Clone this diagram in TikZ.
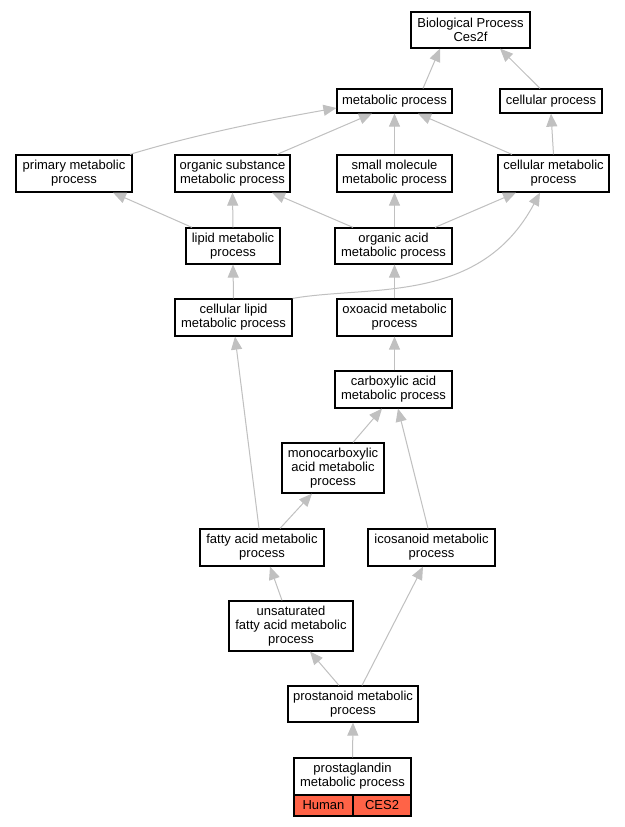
\documentclass[tikz,border=0pt]{standalone}
\usepackage{fontspec}
\setmainfont{Liberation Sans}
\usetikzlibrary{arrows.meta}
\definecolor{edgegray}{RGB}{192,192,192}
\definecolor{tomatofill}{RGB}{255,99,71}
\begin{document}
\begin{tikzpicture}[x=1pt,y=-1pt,
  box/.style={draw=black,line width=1.2pt,fill=white,inner sep=0pt,align=center,font=\fontsize{13}{14}\selectfont},
  edge/.style={draw=edgegray,line width=1pt,-{Triangle[length=13pt,width=11pt]}},
  cell/.style={box,fill=tomatofill,minimum height=21pt}]
\useasboundingbox[fill=white] (0,0) rectangle (624,827);

\node[box,minimum width=119pt,minimum height=36pt] (bp) at (470.5,30) {Biological Process\\Ces2f};
\node[box,minimum width=115pt,minimum height=24pt] (metab) at (394.5,101) {metabolic process};
\node[box,minimum width=102pt,minimum height=24pt] (cellproc) at (551,101) {cellular process};
\node[box,minimum width=116pt,minimum height=37pt] (primary) at (74,173.5) {primary metabolic\\process};
\node[box,minimum width=115pt,minimum height=37pt] (orgsub) at (232.5,173.5) {organic substance\\metabolic process};
\node[box,minimum width=115pt,minimum height=37pt] (smallmol) at (394.5,173.5) {small molecule\\metabolic process};
\node[box,minimum width=111pt,minimum height=37pt] (cellmet) at (553.5,173.5) {cellular metabolic\\process};
\node[box,minimum width=94pt,minimum height=36pt] (lipid) at (233,246) {lipid metabolic\\process};
\node[box,minimum width=117pt,minimum height=36pt] (orgacid) at (393.5,246) {organic acid\\metabolic process};
\node[box,minimum width=117pt,minimum height=37pt] (cellipid) at (233.5,317.5) {cellular lipid\\metabolic process};
\node[box,minimum width=115pt,minimum height=37pt] (oxo) at (394.5,317.5) {oxoacid metabolic\\process};
\node[box,minimum width=117pt,minimum height=37pt] (carbox) at (393.5,389.5) {carboxylic acid\\metabolic process};
\node[box,minimum width=102pt,minimum height=50pt] (mono) at (333,468) {monocarboxylic\\acid metabolic\\process};
\node[box,minimum width=124pt,minimum height=37pt] (fatty) at (262,547.5) {fatty acid metabolic\\process};
\node[box,minimum width=127pt,minimum height=37pt] (icos) at (431.5,547.5) {icosanoid metabolic\\process};
\node[box,minimum width=124pt,minimum height=50pt] (unsat) at (291,626) {unsaturated\\fatty acid metabolic\\process};
\node[box,minimum width=130pt,minimum height=36pt] (prostanoid) at (353,704) {prostanoid metabolic\\process};
\node[box,minimum width=117pt,minimum height=37pt] (pg) at (352.5,776.5) {prostaglandin\\metabolic process};
\node[cell,minimum width=59pt] (human) at (323.5,805.5) {Human};
\node[cell,minimum width=58pt] (ces2) at (382,805.5) {CES2};

\draw[edge] ([xshift=28.5pt]metab.north) -- ([xshift=-30.5pt]bp.south);
\draw[edge] ([xshift=-11pt]cellproc.north) -- ([xshift=29.5pt]bp.south);
\draw[edge] ([xshift=56pt]primary.north) .. controls (200,133) and (280,118) .. ([yshift=-7pt]metab.west);
\draw[edge] ([xshift=44.5pt]orgsub.north) -- ([xshift=-22.5pt]metab.south);
\draw[edge] (smallmol.north) -- (metab.south);
\draw[edge] ([xshift=-41.5pt]cellmet.north) -- ([xshift=23.5pt]metab.south);
\draw[edge] (cellmet.north) -- (cellproc.south);
\draw[edge] ([xshift=-41pt]lipid.north) -- ([xshift=39pt]primary.south);
\draw[edge] (lipid.north) -- (orgsub.south);
\draw[edge] ([xshift=-40.5pt]orgacid.north) -- ([xshift=39.5pt]orgsub.south);
\draw[edge] ([xshift=1pt]orgacid.north) -- (smallmol.south);
\draw[edge] ([xshift=41.5pt]orgacid.north) -- ([xshift=-37.5pt]cellmet.south);
\draw[edge] (cellipid.north) -- (lipid.south);
\draw[edge] (cellipid.north east) .. controls (370,285) and (480,305) .. ([xshift=-13.5pt]cellmet.south);
\draw[edge] (oxo.north) -- ([xshift=1pt]orgacid.south);
\draw[edge] ([xshift=1pt]carbox.north) -- (oxo.south);
\draw[edge] ([xshift=20pt]mono.north) -- ([xshift=-11.5pt]carbox.south);
\draw[edge] ([xshift=-3pt]fatty.north) -- ([xshift=1.5pt]cellipid.south);
\draw[edge] ([xshift=18pt]fatty.north) -- ([xshift=-21pt]mono.south);
\draw[edge] ([xshift=-3.5pt]icos.north) -- ([xshift=4.5pt]carbox.south);
\draw[edge] ([xshift=-9pt]unsat.north) -- ([xshift=8pt]fatty.south);
\draw[edge] ([xshift=-14pt]prostanoid.north) -- ([xshift=19pt]unsat.south);
\draw[edge] ([xshift=9pt]prostanoid.north) -- ([xshift=-8.5pt]icos.south);
\draw[edge] (pg.north) -- (prostanoid.south);
\end{tikzpicture}
\end{document}
